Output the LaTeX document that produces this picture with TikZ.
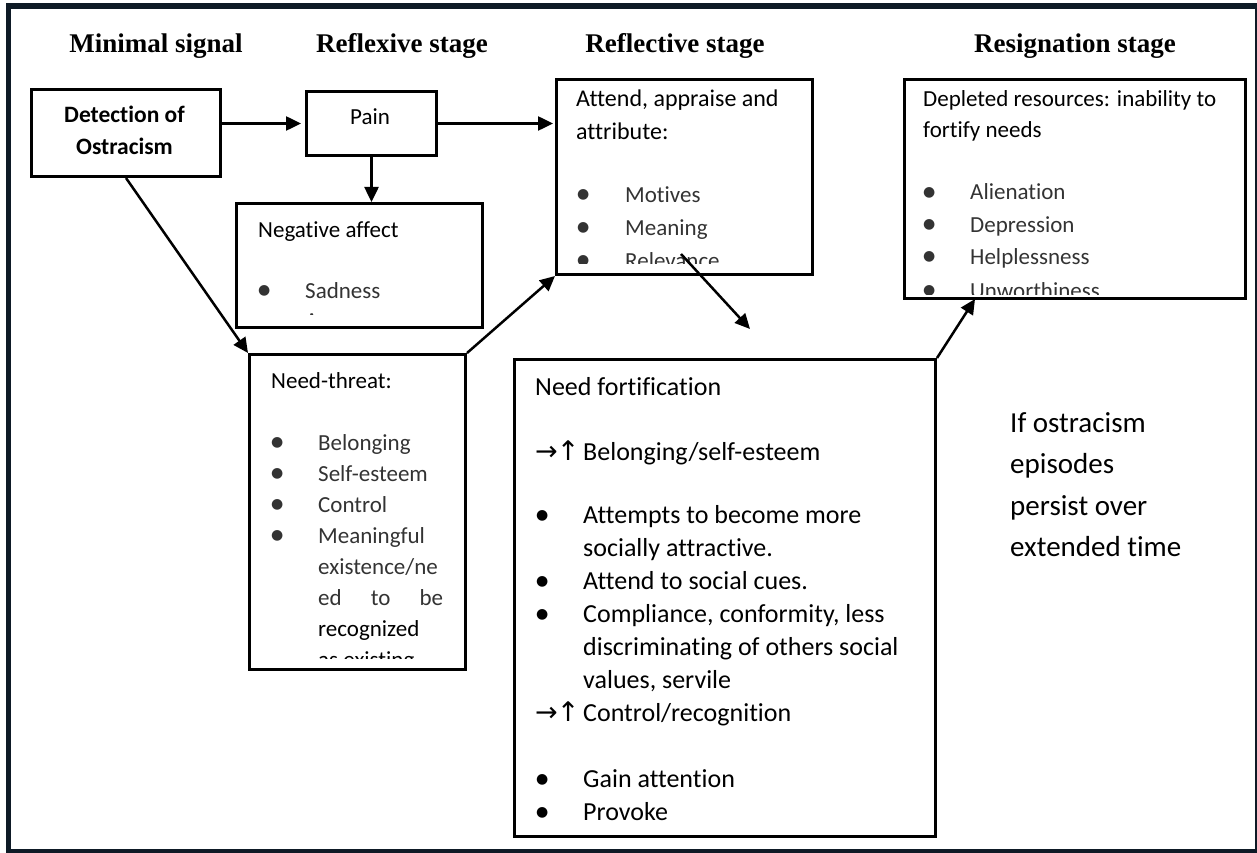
\documentclass[tikz,border=0pt]{standalone}
\usepackage{fontspec}
\setmainfont{Carlito}[Ligatures=NoCommon]
\newfontfamily\headfont{Liberation Serif}
\newfontfamily\symfont{DejaVu Sans}
\usetikzlibrary{arrows.meta,calc}
\definecolor{framenavy}{HTML}{0E1A26}
\definecolor{softink}{gray}{0.20}

% list line: round bullet in a fixed-width slot, then the item text
\newcommand\itemline[2]{\makebox[#1][l]{\raisebox{3.5pt}{\fontsize{14}{14}\symfont\char"25CF}}#2}
% double arrow marker used in the fortification list
\newcommand\uparrowmark{\makebox[48pt][l]{\fontsize{27}{27}\symfont\char"2192\kern-1pt\char"2191}}

\begin{document}
\begin{tikzpicture}[x=1pt,y=-1pt,
  box/.style={draw=black, line width=3pt, rectangle, inner sep=0pt, anchor=north west},
  conn/.style={line width=2.5pt, -{Triangle[length=15pt,width=14pt]}},
  head/.style={anchor=base, inner sep=0pt, font=\headfont\bfseries\fontsize{27}{27}\selectfont},
  txt/.style={anchor=base west, inner sep=0pt, font=\fontsize{23}{23}\selectfont},
  big/.style={anchor=base west, inner sep=0pt, font=\fontsize{24}{24}\selectfont},
  light/.style={anchor=base west, inner sep=0pt, text=softink, font=\fontsize{23}{23}\selectfont},
  fort/.style={anchor=base west, inner sep=0pt, font=\fontsize{26}{26}\selectfont},
  note/.style={anchor=base west, inner sep=0pt, font=\fontsize{29}{29}\selectfont},
]
\useasboundingbox (0,0) rectangle (1257,853);

% outer frame
\draw[framenavy, line width=5.5pt] (8.5,6) rectangle (1257.5,852);

% stage headings
\node[head] (h1) at (156,53) {Minimal signal};
\node[head] (h2) at (402,53) {Reflexive stage};
\node[head] (h3) at (675,53) {Reflective stage};
\node[head] (h4) at (1075,53) {Resignation stage};

% boxes
\node[box, minimum width=189pt, minimum height=87pt]  (det)  at (30,88)  {};
\node[box, minimum width=130pt, minimum height=64pt]  (pain) at (305,90) {};
\node[box, minimum width=246pt, minimum height=124pt] (neg)  at (235,202) {};
\node[box, minimum width=216pt, minimum height=315pt] (nt)   at (248,353) {};
\node[box, minimum width=256pt, minimum height=195pt] (att)  at (555,78) {};
\node[box, minimum width=421pt, minimum height=477pt] (fort) at (513,358) {};
\node[box, minimum width=341pt, minimum height=219pt] (dep)  at (903,78) {};

% detection box
\node[anchor=base, inner sep=0pt, font=\bfseries\fontsize{23.5}{23.5}\selectfont] (det1) at (124.5,123) {Detection of};
\node[anchor=base, inner sep=0pt, font=\bfseries\fontsize{23.5}{23.5}\selectfont] (det2) at (124.5,155) {Ostracism};

% pain box
\node[anchor=base, inner sep=0pt, font=\fontsize{23}{23}\selectfont] (pain1) at (370,125) {Pain};

% negative affect
\begin{scope}
  \clip (238,205) rectangle (478,314.5);
  \node[txt] (neg1) at (258,237) {Negative affect};
  \node[light] (neg2) at (258,298) {\itemline{47pt}{Sadness}};
  \node[light] (neg3) at (258,328) {\itemline{47pt}{Anger}};
\end{scope}

% need-threat
\begin{scope}
  \clip (251,356) rectangle (461,658);
  \node[txt] (nt0) at (271,388) {Need-threat:};
  \node[light] (nt1) at (271,450) {\itemline{47pt}{Belonging}};
  \node[light] (nt2) at (271,481) {\itemline{47pt}{Self-esteem}};
  \node[light] (nt3) at (271,512) {\itemline{47pt}{Control}};
  \node[light] (nt4) at (271,543) {\itemline{47pt}{Meaningful}};
  \node[light] (nt5) at (318,574) {existence/ne};
  \node[light] (nt6) at (318,605) {\makebox[125pt][l]{ed\hfill to\hfill be}};
  \node[txt] (nt7) at (318,636) {recognized};
  \node[txt] (nt8) at (318,667) {as existing};
\end{scope}

% attend, appraise and attribute
\begin{scope}
  \clip (558,81) rectangle (808,263);
  \node[big] (att1) at (576,107) {Attend, appraise and};
  \node[big] (att2) at (576,140) {attribute:};
  \node[light] (att3) at (577,202) {\itemline{48pt}{Motives}};
  \node[light] (att4) at (577,235) {\itemline{48pt}{Meaning}};
  \node[light] (att5) at (577,268) {\itemline{48pt}{Relevance}};
\end{scope}

% depleted resources
\begin{scope}
  \clip (906,81) rectangle (1241,294);
  \node[txt] (dep1) at (923,107) {Depleted resources: inability to};
  \node[txt] (dep2) at (923,138) {fortify needs};
  \node[light] (dep3) at (923,200) {\itemline{47pt}{Alienation}};
  \node[light] (dep4) at (923,232) {\itemline{47pt}{Depression}};
  \node[light] (dep5) at (923,264) {\itemline{47pt}{Helplessness}};
  \node[light] (dep6) at (923,298) {\itemline{47pt}{Unworthiness}};
\end{scope}

% need fortification
\node[fort] (f1)  at (535,395) {Need fortification};
\node[fort] (f2)  at (535,460) {\uparrowmark Belonging/self-esteem};
\node[fort] (f3)  at (536,523) {\itemline{47pt}{Attempts to become more}};
\node[fort] (f4)  at (583,556) {socially attractive.};
\node[fort] (f5)  at (536,589) {\itemline{47pt}{Attend to social cues.}};
\node[fort] (f6)  at (536,622) {\itemline{47pt}{Compliance, conformity, less}};
\node[fort] (f7)  at (583,655) {discriminating of others social};
\node[fort] (f8)  at (583,688) {values, servile};
\node[fort] (f9)  at (535,721) {\uparrowmark Control/recognition};
\node[fort] (f10) at (536,787) {\itemline{47pt}{Gain attention}};
\node[fort] (f11) at (536,820) {\itemline{47pt}{Provoke}};

% persistence note
\node[note] (n1) at (1010,432) {If ostracism};
\node[note] (n2) at (1010,473.5) {episodes};
\node[note] (n3) at (1010,515) {persist over};
\node[note] (n4) at (1010,556.5) {extended time};

% connectors
\coordinate (attout) at (681,254);
\coordinate (fortin) at (750,329);
\coordinate (depin)  at (975,299);

\draw[conn, shorten >=4pt] (pain.west -| det.east) -- (pain.west);
\draw[conn, shorten >=2pt] (pain.east) -- (pain.east -| att.west);
\draw[conn] (pain.south) -- (pain.south |- neg.north);
\draw[conn] (det.south) -- (nt.north west);
\draw[conn] (nt.north east) -- (att.south west);
\draw[conn] (attout) -- (fortin);
\draw[conn] (fort.north east) -- (depin);
\end{tikzpicture}
\end{document}
